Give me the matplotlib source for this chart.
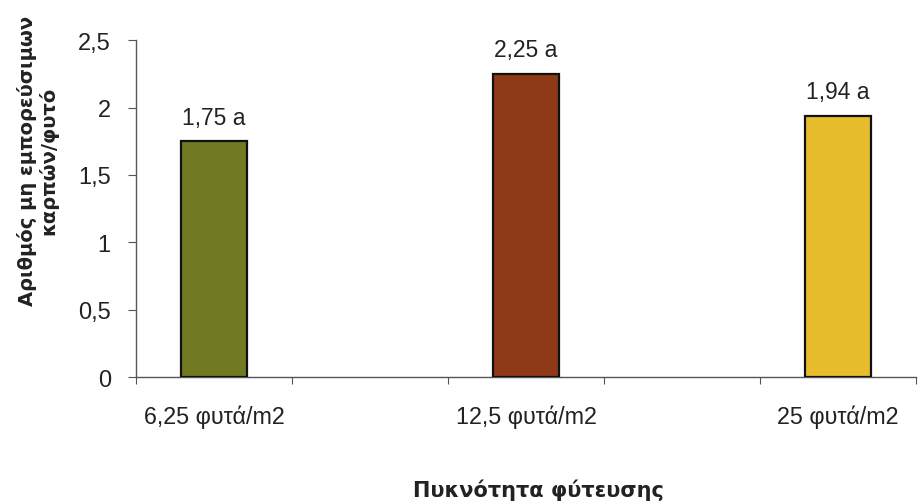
import matplotlib
matplotlib.use("Agg")
import matplotlib.pyplot as plt
import numpy as np

# Planting density groups (empty slots separate the three densities)
categories = ["6,25 φυτά/m2", "", "12,5 φυτά/m2", "", "25 φυτά/m2"]
values = [1.75, None, 2.25, None, 1.94]
letters = ["a", None, "a", None, "a"]
colors = ["#717a23", None, "#8e3a17", None, "#e8bd2d"]

plt.rcParams["font.family"] = ["Liberation Sans", "DejaVu Sans"]

fig = plt.figure(figsize=(9.18, 5.02), dpi=100)
ax = fig.add_axes([0.148, 0.247, 0.85, 0.671])

x = np.arange(len(categories))
for xi, v, c, lt in zip(x, values, colors, letters):
    if v is None:
        continue
    ax.bar(xi, v, width=0.42, color=c, edgecolor="#111111", linewidth=1.6, zorder=3)
    ax.annotate(f"{v:.2f}".replace(".", ",") + f" {lt}", (xi, v),
                xytext=(0, 9), textcoords="offset points",
                ha="center", va="bottom", fontsize=16.5, color="#222222")

ax.set_xlim(-0.5, len(categories) - 0.5)
ax.set_ylim(0, 2.5)
ax.set_yticks([0, 0.5, 1, 1.5, 2, 2.5])
ax.set_yticklabels(["0", "0,5", "1", "1,5", "2", "2,5"])

# Tick marks between categories, labels centred under the slots
ax.set_xticks(np.arange(len(categories) + 1) - 0.5)
ax.set_xticklabels([])
ax.set_xticks(x, minor=True)
ax.set_xticklabels(categories, minor=True)
ax.tick_params(axis="x", which="major", length=5, direction="out", color="#555555")
ax.tick_params(axis="x", which="minor", length=0, pad=20, labelsize=16.8, labelcolor="#222222")
ax.tick_params(axis="y", length=6, direction="out", color="#555555", labelsize=17,
               labelcolor="#222222", pad=12)

for s in ["top", "right"]:
    ax.spines[s].set_visible(False)
for s in ["left", "bottom"]:
    ax.spines[s].set_color("#555555")
    ax.spines[s].set_linewidth(1.0)

fig.text(0.041, 0.68, "Αριθμός μη εμπορεύσιμων\nκαρπών/φυτό", rotation=90,
         ha="center", va="center", fontsize=14, fontweight="bold",
         family="DejaVu Sans", color="#222222", linespacing=1.1)
fig.text(0.586, 0.028, "Πυκνότητα φύτευσης", ha="center", va="center_baseline",
         fontsize=15, fontweight="bold", family="DejaVu Sans", color="#222222")

fig.savefig("out.png", dpi=100)
